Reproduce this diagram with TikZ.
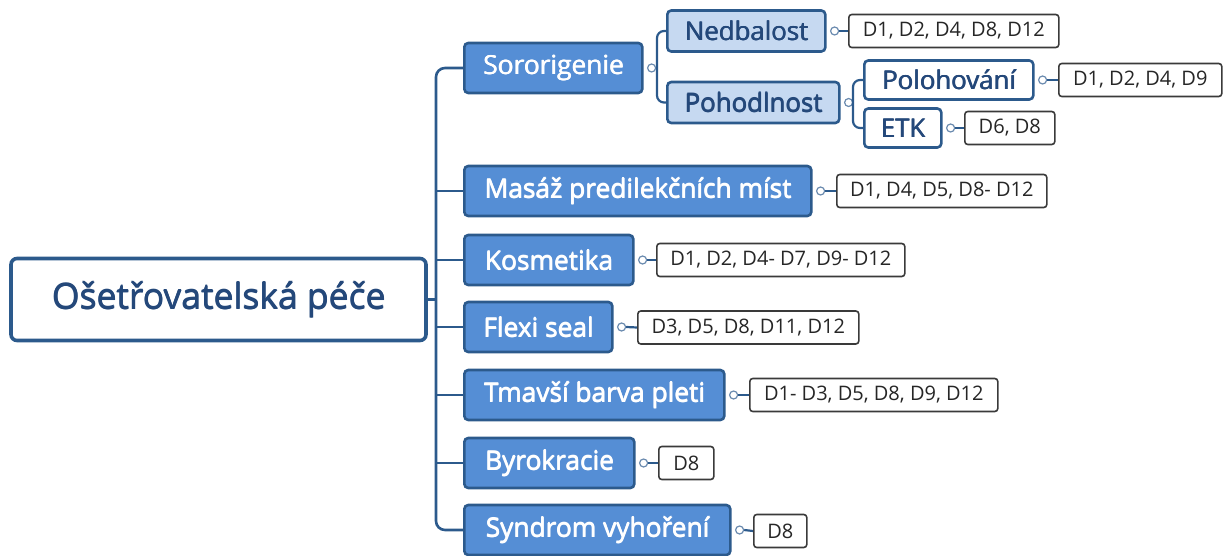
\documentclass[tikz,border=0pt]{standalone}
\usepackage{fontspec}
\setmainfont{Open Sans}
\usetikzlibrary{calc}
% slightly heavier text: the glyphs are laid over themselves with small offsets
\newcommand\heavytext[1]{\leavevmode\rlap{\kern0.7pt#1}\rlap{\kern0.35pt\raisebox{0.35pt}{#1}}#1}
\definecolor{linecol}{HTML}{2C5A8C}
\definecolor{bluefill}{HTML}{558ED5}
\definecolor{lightfill}{HTML}{C6D9F1}
\definecolor{darktext}{HTML}{24487A}
\definecolor{boxline}{HTML}{3A3A3A}
\tikzset{
  conn/.style={draw=linecol, line width=2.6pt},
  rootbox/.style={draw=linecol, line width=3.6pt, fill=white, rounded corners=6pt,
    text=darktext, font=\fontsize{35.5}{38}\selectfont, inner sep=0pt, minimum height=82pt},
  topic/.style={draw=linecol, line width=2.6pt, fill=bluefill, rounded corners=4pt,
    text=white, font=\fontsize{26.3}{28}\selectfont, inner sep=0pt, minimum height=50pt, anchor=west},
  subtopic/.style={draw=linecol, line width=2.6pt, fill=lightfill, rounded corners=4pt,
    text=darktext, font=\fontsize{25.8}{28}\selectfont, inner sep=0pt, minimum height=41pt, anchor=west},
  leaf/.style={draw=linecol, line width=2.6pt, fill=white, rounded corners=4pt,
    text=darktext, font=\fontsize{25.8}{28}\selectfont, inner sep=0pt, minimum height=39pt, anchor=west},
  dbox/.style={draw=boxline, line width=1.6pt, fill=white, rounded corners=3pt,
    text=black!85, font=\fontsize{20}{22}\selectfont, inner sep=0pt, minimum height=33pt, anchor=west},
  knob/.style={circle, draw=linecol!70, fill=white, line width=1.2pt, minimum size=8pt, inner sep=0pt},
}
\begin{document}
\begin{tikzpicture}[x=1pt, y=-1pt]
\useasboundingbox (0,0) rectangle (1229,556);

% central topic
\node[rootbox, minimum width=415pt] (root) at (218.5,299.5) {\heavytext{Ošetřovatelská péče}};

% main branches
\node[topic, minimum width=178pt] (sor) at (463,68) {\heavytext{Sororigenie}};
\node[topic, minimum width=347pt] (mas) at (463,191) {\heavytext{Masáž predilekčních míst}};
\node[topic, minimum width=169pt] (kos) at (463,260) {\heavytext{Kosmetika}};
\node[topic, minimum width=148pt] (fle) at (463,327) {\heavytext{Flexi seal}};
\node[topic, minimum width=260pt] (tma) at (463,395) {\heavytext{Tmavší barva pleti}};
\node[topic, minimum width=170pt] (byr) at (463,463) {\heavytext{Byrokracie}};
\node[topic, minimum width=266pt] (syn) at (463,530) {\heavytext{Syndrom vyhoření}};

% second level
\node[subtopic, minimum width=158pt] (ned) at (666,31) {\heavytext{Nedbalost}};
\node[subtopic, minimum width=172pt] (poh) at (666,102.5) {\heavytext{Pohodlnost}};
\node[leaf, minimum width=169pt] (pol) at (863,80) {\heavytext{Polohování}};
\node[leaf, minimum width=77pt] (etk) at (863,128) {\heavytext{ETK}};

% trunk from the central topic
\coordinate (tk) at (436,299.5);
\draw[conn, rounded corners=9pt] (sor.west) -| (tk) |- (syn.west);
\draw[conn] (root.east) -- (tk);
\foreach \n in {mas,kos,fle,tma,byr} \draw[conn] (tk |- \n.west) -- (\n.west);

% Sororigenie sub-branches
\node[knob] (ks) at ($(sor.east)+(8,0)$) {};
\coordinate (sx) at (657,68);
\draw[conn, line width=2.2pt] (ks.east) -- (sx);
\draw[conn, line width=2.2pt, rounded corners=7pt] (ned.west) -| (sx) |- (poh.west);

% Pohodlnost sub-branches
\node[knob] (kp) at ($(poh.east)+(8,0)$) {};
\coordinate (px) at (853,102.5);
\draw[conn, line width=2.2pt] (kp.east) -- (px);
\draw[conn, line width=2.2pt, rounded corners=7pt] (pol.west) -| (px) |- (etk.west);

% diagnosis lists
\node[dbox, minimum width=210pt] (dned) at (848,31) {D1, D2, D4, D8, D12};
\node[dbox, minimum width=163pt] (dpol) at (1058,80) {D1, D2, D4, D9};
\node[dbox, minimum width=90pt]  (detk) at (964,128) {D6, D8};
\node[dbox, minimum width=210pt] (dmas) at (836,191) {D1, D4, D5, D8- D12};
\node[dbox, minimum width=248pt] (dkos) at (656,260) {D1, D2, D4- D7, D9- D12};
\node[dbox, minimum width=221pt] (dfle) at (637,327.5) {D3, D5, D8, D11, D12};
\node[dbox, minimum width=248pt] (dtma) at (749,395) {D1- D3, D5, D8, D9, D12};
\node[dbox, minimum width=55pt]  (dbyr) at (658,463) {D8};
\node[dbox, minimum width=53pt]  (dsyn) at (753,531) {D8};

\foreach \a/\b in {ned/dned,pol/dpol,etk/detk,mas/dmas,kos/dkos,fle/dfle,tma/dtma,byr/dbyr,syn/dsyn}{
  \node[knob] (k\a) at ($(\a.east)+(8,0)$) {};
  \draw[conn, line width=2.2pt] (k\a.east) -- (\b.west);
}
\end{tikzpicture}
\end{document}
